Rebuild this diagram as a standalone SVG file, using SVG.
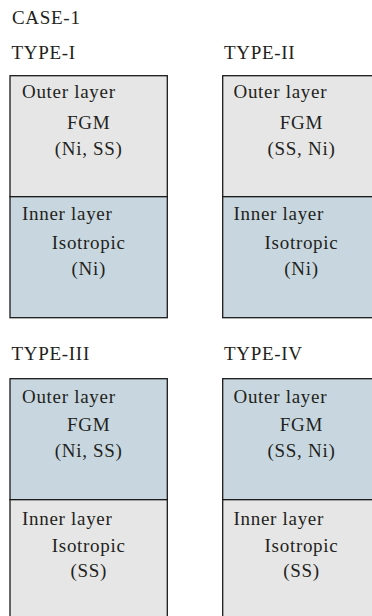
<svg xmlns="http://www.w3.org/2000/svg" width="372" height="616" viewBox="0 0 372 616">
  <style>
    text { font-family: "Liberation Serif", "Times New Roman", serif; font-size: 19px; fill: #231f20; letter-spacing: 0.7px; }
    .c { text-anchor: middle; }
    .box { stroke: #1a1a1a; stroke-width: 1.3; }
    .grey { fill: #e6e6e6; }
    .blue { fill: #c8d7df; }
  </style>
  <rect width="372" height="616" fill="#ffffff"/>

  <text x="12" y="24">CASE-1</text>

  <!-- TYPE-I: FGM outer layer over isotropic Ni -->
  <g id="type-1">
    <text x="11.5" y="59">TYPE-I</text>
    <rect class="box grey" x="10" y="75.7" width="157.3" height="121"/>
    <rect class="box blue" x="10" y="196.7" width="157.3" height="121"/>
    <text x="22" y="98">Outer layer</text>
    <text class="c" x="88.7" y="129">FGM</text>
    <text class="c" x="88.7" y="155">(Ni, SS)</text>
    <text x="22" y="220">Inner layer</text>
    <text class="c" x="88.7" y="249">Isotropic</text>
    <text class="c" x="88.7" y="274.5">(Ni)</text>
  </g>

  <!-- TYPE-II -->
  <g id="type-2">
    <text x="224" y="59">TYPE-II</text>
    <rect class="box grey" x="222.7" y="75.7" width="157.3" height="121"/>
    <rect class="box blue" x="222.7" y="196.7" width="157.3" height="121"/>
    <text x="233.5" y="98">Outer layer</text>
    <text class="c" x="301.5" y="129">FGM</text>
    <text class="c" x="301.5" y="155">(SS, Ni)</text>
    <text x="233.5" y="220">Inner layer</text>
    <text class="c" x="301.5" y="249">Isotropic</text>
    <text class="c" x="301.5" y="274.5">(Ni)</text>
  </g>

  <!-- TYPE-III: FGM outer layer over isotropic SS -->
  <g id="type-3">
    <text x="11.5" y="360">TYPE-III</text>
    <rect class="box blue" x="10" y="378.7" width="157.3" height="121"/>
    <rect class="box grey" x="10" y="499.7" width="157.3" height="121"/>
    <text x="22" y="403.3">Outer layer</text>
    <text class="c" x="88.7" y="431">FGM</text>
    <text class="c" x="88.7" y="457">(Ni, SS)</text>
    <text x="22" y="525">Inner layer</text>
    <text class="c" x="88.7" y="551.7">Isotropic</text>
    <text class="c" x="88.7" y="577">(SS)</text>
  </g>

  <!-- TYPE-IV -->
  <g id="type-4">
    <text x="224" y="360">TYPE-IV</text>
    <rect class="box blue" x="222.7" y="378.7" width="157.3" height="121"/>
    <rect class="box grey" x="222.7" y="499.7" width="157.3" height="121"/>
    <text x="233.5" y="403.3">Outer layer</text>
    <text class="c" x="301.5" y="431">FGM</text>
    <text class="c" x="301.5" y="457">(SS, Ni)</text>
    <text x="233.5" y="525">Inner layer</text>
    <text class="c" x="301.5" y="551.7">Isotropic</text>
    <text class="c" x="301.5" y="577">(SS)</text>
  </g>
</svg>
